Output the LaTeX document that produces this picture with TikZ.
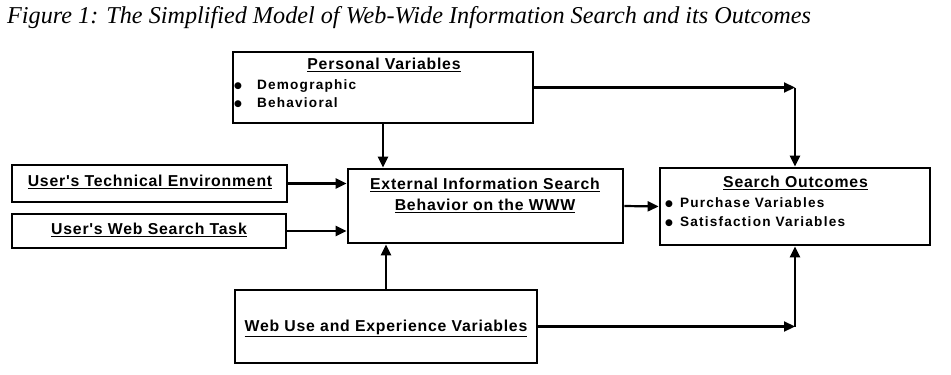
\documentclass[tikz,border=0pt]{standalone}
\usepackage{fontspec}
\setmainfont{Liberation Serif}
\newfontfamily\hdfont[LetterSpace=5]{Liberation Sans}
\newfontfamily\itfont[LetterSpace=9]{Liberation Sans}
\newfontfamily\dotfont{DejaVu Sans}
\usetikzlibrary{arrows.meta}
\newcommand{\bdot}{\raisebox{0.8pt}{\dotfont\fontsize{9}{9}\selectfont ●}}
\tikzset{
  boxstyle/.style={draw, line width=2.7pt, inner sep=0pt},
  headtxt/.style={font=\hdfont\bfseries\fontsize{15.8}{21}\selectfont, inner sep=0pt, align=center},
  itemtxt/.style={font=\itfont\bfseries\fontsize{13.6}{16}\selectfont, inner sep=0pt, anchor=west},
  conn/.style={line width=2.2pt, -{Triangle[length=11pt,width=10pt]}},
}
\begin{document}
\begin{tikzpicture}[x=1pt,y=-1pt]
\useasboundingbox (0,0) rectangle (951,375);
% title
\node[font=\itshape\fontsize{24.2}{26}\selectfont, anchor=base west, inner sep=0pt] (title) at (7,23) {Figure 1: The Simplified Model of Web-Wide Information Search and its Outcomes};
% boxes
\node[boxstyle, minimum width=300pt, minimum height=71pt] (pers) at (383,87.5) {};
\node[boxstyle, minimum width=275pt, minimum height=37pt] (tech) at (149.5,183.5) {};
\node[boxstyle, minimum width=274pt, minimum height=34pt] (task) at (149,231) {};
\node[boxstyle, minimum width=275pt, minimum height=74pt] (ext) at (485.5,206) {};
\node[boxstyle, minimum width=270pt, minimum height=77pt] (out) at (795,206.5) {};
\node[boxstyle, minimum width=302pt, minimum height=73pt] (web) at (386,326.5) {};
% texts
\node[headtxt] (perst) at (384,65) {\underline{Personal Variables}};
\node[itemtxt] (p1) at (234,86) {\bdot\hspace{15pt}Demographic};
\node[itemtxt] (p2) at (234,103) {\bdot\hspace{15pt}Behavioral};
\node[headtxt] (techt) at (150,182) {\underline{User's Technical Environment}};
\node[headtxt] (taskt) at (149,230) {\underline{User's Web Search Task}};
\node[headtxt] (extt) at (485,195) {\underline{External Information Search}\\\underline{Behavior on the WWW}};
\node[headtxt] (outt) at (795.5,183) {\underline{Search Outcomes}};
\node[itemtxt] (o1) at (665,203) {\bdot\hspace{7pt}Purchase Variables};
\node[itemtxt] (o2) at (665,222) {\bdot\hspace{7pt}Satisfaction Variables};
\node[headtxt] (webt) at (386,328) {\underline{Web Use and Experience Variables}};
% connectors
\coordinate (c1) at (out.north |- pers.east);
\coordinate (c2) at (out.south |- web.east);
\draw[conn] (pers.south) -- (pers.south |- ext.north);
\draw[conn] (pers.east) -- (c1);
\draw[conn] (c1) -- (out.north);
\draw[conn] (tech.east) -- (ext.west |- tech.east);
\draw[conn] (task.east) -- (ext.west |- task.east);
\draw[conn] (ext.east) -- (out.west);
\draw[conn] (web.north) -- (web.north |- ext.south);
\draw[conn] (web.east) -- (c2);
\draw[conn] (c2) -- (out.south);
\end{tikzpicture}
\end{document}
